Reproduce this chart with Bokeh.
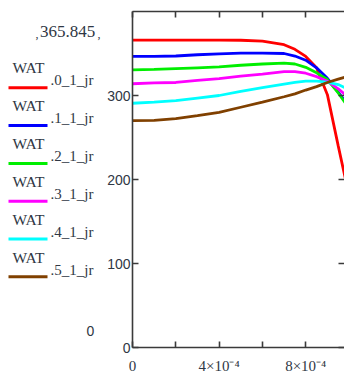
from bokeh.plotting import figure
from bokeh.layouts import row
from bokeh.models import Range1d, FixedTicker, LinearAxis, Label, BoxAnnotation
from bokeh.embed import file_html
from bokeh.resources import INLINE

# ---- data ----
x_vals = [0, 1e-4, 2e-4, 3e-4, 4e-4, 5e-4, 6e-4, 7e-4, 7.5e-4, 8e-4, 8.5e-4, 9e-4, 9.5e-4, 1e-3]
wat_0 = [366, 366, 366, 366, 366, 365.8, 364.8, 360.5, 355, 346.5, 333, 301, 240, 181]
wat_1 = [346.5, 346.5, 347, 348.5, 349.5, 350.5, 350.5, 350, 347, 342, 333, 320.5, 304, 287]
wat_2 = [330.5, 331, 332, 333, 334, 336, 337.5, 338.5, 337.5, 333.5, 327, 319, 303, 285]
wat_3 = [314, 315, 315.5, 318, 320, 323, 325.5, 328.5, 328.5, 326.5, 322.5, 317, 308, 297]
wat_4 = [290.8, 292, 294, 297, 300, 305, 309.5, 313.5, 315.5, 317, 317, 316, 313, 307]
wat_5 = [270, 270.5, 272.5, 276, 280, 286, 292, 298.5, 302, 306.5, 310.5, 315.5, 319.5, 323]
series = [wat_0, wat_1, wat_2, wat_3, wat_4, wat_5]
names = ["WAT.0_1_jr", "WAT.1_1_jr", "WAT.2_1_jr", "WAT.3_1_jr", "WAT.4_1_jr", "WAT.5_1_jr"]
colors = ["#ff0000", "#0000ff", "#00ee00", "#ff00ff", "#00ffff", "#804000"]

x_ticks = [0, 2e-4, 4e-4, 6e-4, 8e-4]
x_tick_labels = {0: "0", 2e-4: "", 4e-4: "4×10⁻⁴", 6e-4: "", 8e-4: "8×10⁻⁴"}
y_ticks = [0, 100, 200, 300]
y_upper_label = "365.845"
y_lower_label = "0"

TXT = "#2f3744"
AX = "#3a3a3a"
W_LEG = 104
H = 376
FRAME_BOTTOM = 347   # page y of the (aligned) frame bottom

# ---------------- main plot ----------------
p = figure(width=344 - W_LEG, height=H, output_backend="svg", toolbar_location=None,
           x_range=Range1d(0, 9.79e-4), y_range=Range1d(0, 400),
           x_axis_location=None, y_axis_location=None,
           min_border_left=132 - W_LEG, min_border_right=0, min_border_top=11,
           min_border_bottom=H - FRAME_BOTTOM)
p.outline_line_color = None
p.xgrid.visible = False
p.ygrid.visible = False

def style(ax):
    ax.axis_line_color = AX
    ax.axis_line_width = 1.6
    ax.major_tick_line_color = AX
    ax.major_tick_line_width = 1.6
    ax.major_tick_in = 6
    ax.major_tick_out = 0
    ax.minor_tick_line_color = None

bottom = LinearAxis(ticker=FixedTicker(ticks=x_ticks), major_label_overrides=x_tick_labels)
style(bottom)
bottom.major_label_text_font = "Liberation Serif"
bottom.major_label_text_font_size = "15px"
bottom.major_label_text_color = TXT
bottom.major_label_standoff = 10
p.add_layout(bottom, "below")

left = LinearAxis(ticker=FixedTicker(ticks=y_ticks))
style(left)
left.major_label_text_font = "Liberation Sans"
left.major_label_text_font_size = "14px"
left.major_label_text_color = TXT
left.major_label_standoff = 2
p.add_layout(left, "left")

top = LinearAxis(ticker=FixedTicker(ticks=x_ticks), major_label_overrides={t: "" for t in x_ticks})
style(top)
top.major_label_standoff = 0
p.add_layout(top, "above")

right = LinearAxis(ticker=FixedTicker(ticks=y_ticks), major_label_overrides={t: "" for t in y_ticks})
style(right)
right.axis_line_color = None
right.major_label_standoff = 0
p.add_layout(right, "right")

for ys, c in zip(series, colors):
    p.line(x_vals, ys, line_color=c, line_width=2.8)

# ---------------- legend / limit labels panel ----------------
lg = figure(width=W_LEG, height=H, output_backend="svg", toolbar_location=None,
            x_range=Range1d(0, 1), y_range=Range1d(0, 1),
            x_axis_location=None, y_axis_location=None,
            min_border_left=0, min_border_right=0, min_border_top=11,
            min_border_bottom=H - FRAME_BOTTOM)
lg.outline_line_color = None
lg.xgrid.visible = False
lg.ygrid.visible = False

def sy(py):
    return FRAME_BOTTOM - py

SHIFT = 4  # text baseline correction
for i, (nm, c) in enumerate(zip(names, colors)):
    base, sub = nm.split(".", 1)
    yb = 71 + 38 * i - SHIFT
    lg.add_layout(Label(x=12, y=sy(yb), x_units="screen", y_units="screen", text=base,
                        text_font="Liberation Serif", text_font_size="15.5px", text_color=TXT,
                        text_baseline="alphabetic", text_align="left"))
    lg.add_layout(Label(x=50, y=sy(yb + 12.5), x_units="screen", y_units="screen", text="." + sub,
                        text_font="Liberation Serif", text_font_size="15px", text_color=TXT,
                        text_baseline="alphabetic", text_align="left"))
    ly = 87.3 + 37.8 * i
    lg.add_layout(BoxAnnotation(left=8, right=47, bottom=sy(ly + 1.5), top=sy(ly - 1.5),
                                left_units="screen", right_units="screen",
                                bottom_units="screen", top_units="screen",
                                fill_color=c, fill_alpha=1, line_color=None))

lg.add_layout(Label(x=67, y=sy(35 - SHIFT), x_units="screen", y_units="screen", text=y_upper_label,
                    text_font="Liberation Serif", text_font_size="17px", text_color=TXT,
                    text_baseline="alphabetic", text_align="center"))
for mx in (35, 97):
    lg.add_layout(Label(x=mx, y=sy(37 - SHIFT), x_units="screen", y_units="screen", text=",",
                        text_font="Liberation Serif", text_font_size="12px", text_color=TXT,
                        text_baseline="alphabetic", text_align="left"))
lg.add_layout(Label(x=90, y=sy(330), x_units="screen", y_units="screen", text=y_lower_label,
                    text_font="Liberation Sans", text_font_size="14px", text_color=TXT,
                    text_baseline="middle", text_align="center"))

layout = row(lg, p, spacing=0)
open("out.html", "w").write(file_html(layout, INLINE))
